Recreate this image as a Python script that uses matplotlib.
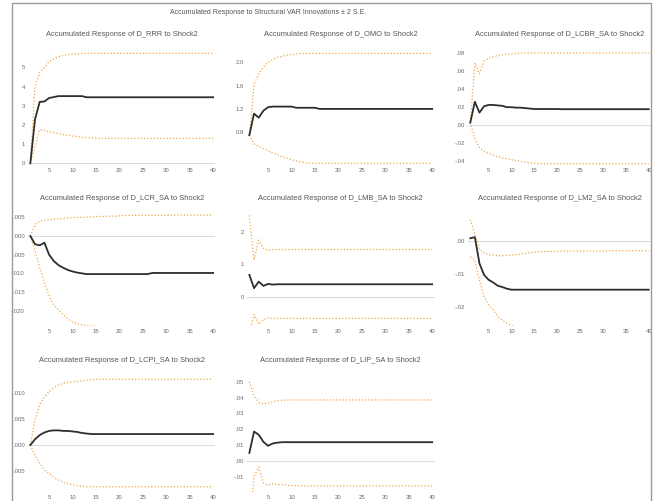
import matplotlib
matplotlib.use("Agg")
import matplotlib.pyplot as plt
from matplotlib.patches import Rectangle

W, H = 661, 501
plt.rcParams['font.family'] = ['Liberation Sans', 'DejaVu Sans']

periods = list(range(1, 41))
xticks = [5, 10, 15, 20, 25, 30, 35, 40]

# --- D_RRR
rrr_resp = [0.00, 2.30, 3.20, 3.22, 3.40, 3.45, 3.50, 3.50, 3.50, 3.50,
            3.50, 3.50, 3.44, 3.44, 3.44, 3.44, 3.44, 3.44, 3.44, 3.44,
            3.44, 3.44, 3.44, 3.44, 3.44, 3.44, 3.44, 3.44, 3.44, 3.44,
            3.44, 3.44, 3.44, 3.44, 3.44, 3.44, 3.44, 3.44, 3.44, 3.44]
rrr_up = [0.00, 4.00, 4.75, 5.00, 5.30, 5.45, 5.55, 5.62, 5.66, 5.69,
          5.71, 5.72, 5.73, 5.73, 5.73, 5.73, 5.73, 5.73, 5.73, 5.73,
          5.73, 5.73, 5.73, 5.73, 5.73, 5.73, 5.73, 5.73, 5.73, 5.73,
          5.73, 5.73, 5.73, 5.73, 5.73, 5.73, 5.73, 5.73, 5.73, 5.73]
rrr_lo = [0.00, 0.90, 1.75, 1.72, 1.65, 1.60, 1.55, 1.50, 1.46, 1.42,
          1.39, 1.36, 1.34, 1.32, 1.30, 1.30, 1.30, 1.30, 1.30, 1.30,
          1.30, 1.30, 1.30, 1.30, 1.30, 1.30, 1.30, 1.30, 1.30, 1.30,
          1.30, 1.30, 1.30, 1.30, 1.30, 1.30, 1.30, 1.30, 1.30, 1.30]

# --- D_OMO
omo_resp = [0.75, 1.12, 1.05, 1.17, 1.23, 1.24, 1.24, 1.24, 1.24, 1.24,
            1.22, 1.22, 1.22, 1.22, 1.22, 1.20, 1.20, 1.20, 1.20, 1.20,
            1.20, 1.20, 1.20, 1.20, 1.20, 1.20, 1.20, 1.20, 1.20, 1.20,
            1.20, 1.20, 1.20, 1.20, 1.20, 1.20, 1.20, 1.20, 1.20, 1.20]
omo_up = [0.75, 1.62, 1.80, 1.92, 2.00, 2.05, 2.08, 2.10, 2.12, 2.13,
          2.14, 2.15, 2.15, 2.15, 2.15, 2.15, 2.15, 2.15, 2.15, 2.15,
          2.15, 2.15, 2.15, 2.15, 2.15, 2.15, 2.15, 2.15, 2.15, 2.15,
          2.15, 2.15, 2.15, 2.15, 2.15, 2.15, 2.15, 2.15, 2.15, 2.15]
omo_lo = [0.75, 0.60, 0.56, 0.52, 0.48, 0.45, 0.42, 0.38, 0.36, 0.33,
          0.31, 0.29, 0.28, 0.27, 0.27, 0.27, 0.27, 0.27, 0.27, 0.27,
          0.27, 0.27, 0.27, 0.27, 0.27, 0.27, 0.27, 0.27, 0.27, 0.27,
          0.27, 0.27, 0.27, 0.27, 0.27, 0.27, 0.27, 0.27, 0.27, 0.27]

# --- D_LCBR_SA
lcbr_resp = [0.003, 0.026, 0.014, 0.021, 0.0225, 0.0225, 0.022, 0.0215, 0.020, 0.020,
             0.0195, 0.0195, 0.019, 0.0185, 0.018, 0.018, 0.018, 0.018, 0.018, 0.018,
             0.0178, 0.0178, 0.0178, 0.0178, 0.0178, 0.0178, 0.0178, 0.0178, 0.0178, 0.0178,
             0.0178, 0.0178, 0.0178, 0.0178, 0.0178, 0.0178, 0.0178, 0.0178, 0.0178, 0.0178]
lcbr_up = [0.003, 0.069, 0.057, 0.071, 0.074, 0.076, 0.077, 0.078, 0.079, 0.079,
           0.0795, 0.080, 0.080, 0.080, 0.080, 0.080, 0.080, 0.080, 0.080, 0.080,
           0.080, 0.080, 0.080, 0.080, 0.080, 0.080, 0.080, 0.080, 0.080, 0.080,
           0.080, 0.080, 0.080, 0.080, 0.080, 0.080, 0.080, 0.080, 0.080, 0.080]
lcbr_lo = [0.003, -0.015, -0.025, -0.029, -0.031, -0.033, -0.035, -0.036, -0.037, -0.038,
           -0.039, -0.040, -0.041, -0.0415, -0.042, -0.0425, -0.0425, -0.0425, -0.0425, -0.0425,
           -0.0425, -0.0425, -0.0425, -0.0425, -0.0425, -0.0425, -0.0425, -0.0425, -0.0425, -0.0425,
           -0.0425, -0.0425, -0.0425, -0.0425, -0.0425, -0.0425, -0.0425, -0.0425, -0.0425, -0.0425]

# --- D_LCR_SA
lcr_resp = [0.0, -0.0022, -0.0025, -0.0018, -0.0050, -0.0067, -0.0078, -0.0085, -0.0091, -0.0095,
            -0.0098, -0.0100, -0.0102, -0.0102, -0.0102, -0.0102, -0.0102, -0.0102, -0.0102, -0.0102,
            -0.0102, -0.0102, -0.0102, -0.0102, -0.0102, -0.0102, -0.0099, -0.0099, -0.0099, -0.0099,
            -0.0099, -0.0099, -0.0099, -0.0099, -0.0099, -0.0099, -0.0099, -0.0099, -0.0099, -0.0099]
lcr_up = [0.0, 0.0030, 0.0040, 0.0042, 0.0044, 0.0045, 0.0046, 0.0047, 0.0048, 0.0049,
          0.0050, 0.0050, 0.0051, 0.0051, 0.0052, 0.0052, 0.0053, 0.0053, 0.0053, 0.0054,
          0.0055, 0.0055, 0.0055, 0.0055, 0.0055, 0.0055, 0.0055, 0.0055, 0.0055, 0.0055,
          0.0056, 0.0056, 0.0056, 0.0056, 0.0056, 0.0056, 0.0056, 0.0056, 0.0056, 0.0056]
lcr_lo = [0.0, -0.0040, -0.0085, -0.0125, -0.0160, -0.0185, -0.0198, -0.0210, -0.0222, -0.0230,
          -0.0235, -0.0238, -0.0240, -0.0241, -0.0242, -0.0244, -0.0248, -0.0252, -0.0255, -0.0257,
          -0.0258, -0.0258, -0.0258, -0.0258, -0.0258, -0.0258, -0.0258, -0.0258, -0.0258, -0.0258,
          -0.0260, -0.0260, -0.0260, -0.0260, -0.0260, -0.0260, -0.0260, -0.0260, -0.0260, -0.0260]

# --- D_LMB_SA
lmb_resp = [0.67, 0.26, 0.46, 0.33, 0.39, 0.37, 0.38, 0.38, 0.38, 0.38,
            0.38, 0.38, 0.38, 0.38, 0.38, 0.38, 0.38, 0.38, 0.38, 0.38,
            0.38, 0.38, 0.38, 0.38, 0.38, 0.38, 0.38, 0.38, 0.38, 0.38,
            0.38, 0.38, 0.38, 0.38, 0.38, 0.38, 0.38, 0.38, 0.38, 0.38]
lmb_up = [2.50, 1.12, 1.74, 1.49, 1.42, 1.44, 1.45, 1.45, 1.45, 1.45,
          1.45, 1.45, 1.45, 1.45, 1.45, 1.45, 1.45, 1.45, 1.45, 1.45,
          1.45, 1.45, 1.45, 1.45, 1.45, 1.45, 1.45, 1.45, 1.45, 1.45,
          1.45, 1.45, 1.45, 1.45, 1.45, 1.45, 1.45, 1.45, 1.45, 1.45]
lmb_lo = [-1.16, -0.55, -0.85, -0.72, -0.64, -0.68, -0.67, -0.67, -0.67, -0.67,
          -0.67, -0.67, -0.67, -0.67, -0.67, -0.67, -0.67, -0.67, -0.67, -0.67,
          -0.67, -0.67, -0.67, -0.67, -0.67, -0.67, -0.67, -0.67, -0.67, -0.67,
          -0.67, -0.67, -0.67, -0.67, -0.67, -0.67, -0.67, -0.67, -0.67, -0.67]

# --- D_LM2_SA
lm2_resp = [0.0007, 0.0010, -0.0069, -0.0104, -0.0119, -0.0127, -0.0137, -0.0141, -0.0146, -0.0149,
            -0.0149, -0.0149, -0.0149, -0.0149, -0.0149, -0.0149, -0.0149, -0.0149, -0.0149, -0.0149,
            -0.0149, -0.0149, -0.0149, -0.0149, -0.0149, -0.0149, -0.0149, -0.0149, -0.0149, -0.0149,
            -0.0149, -0.0149, -0.0149, -0.0149, -0.0149, -0.0149, -0.0149, -0.0149, -0.0149, -0.0149]
lm2_up = [0.0063, 0.0020, -0.0025, -0.0038, -0.0043, -0.0045, -0.0046, -0.0046, -0.0045, -0.0044,
          -0.0043, -0.0041, -0.0039, -0.0037, -0.0035, -0.0034, -0.0033, -0.0033, -0.0033, -0.0033,
          -0.0032, -0.0032, -0.0032, -0.0032, -0.0032, -0.0032, -0.0032, -0.0032, -0.0032, -0.0032,
          -0.0031, -0.0031, -0.0031, -0.0031, -0.0031, -0.0031, -0.0031, -0.0031, -0.0031, -0.0031]
lm2_lo = [-0.0049, -0.0060, -0.0120, -0.0170, -0.0195, -0.0210, -0.0230, -0.0242, -0.0250, -0.0258,
          -0.0262, -0.0264, -0.0266, -0.0267, -0.0267, -0.0267, -0.0267, -0.0267, -0.0267, -0.0267,
          -0.0267, -0.0267, -0.0267, -0.0267, -0.0267, -0.0267, -0.0267, -0.0267, -0.0267, -0.0267,
          -0.0267, -0.0267, -0.0267, -0.0267, -0.0267, -0.0267, -0.0267, -0.0267, -0.0267, -0.0267]

# --- D_LCPI_SA
lcpi_resp = [0.0, 0.0011, 0.0019, 0.0024, 0.0027, 0.0028, 0.0028, 0.0027, 0.0027, 0.0026,
             0.0025, 0.0023, 0.0022, 0.0021, 0.0021, 0.0021, 0.0021, 0.0021, 0.0021, 0.0021,
             0.0021, 0.0021, 0.0021, 0.0021, 0.0021, 0.0021, 0.0021, 0.0021, 0.0021, 0.0021,
             0.0021, 0.0021, 0.0021, 0.0021, 0.0021, 0.0021, 0.0021, 0.0021, 0.0021, 0.0021]
lcpi_up = [0.0, 0.0048, 0.0077, 0.0092, 0.0102, 0.0110, 0.0115, 0.0118, 0.0120, 0.0121,
           0.0122, 0.0123, 0.0124, 0.0125, 0.0126, 0.0126, 0.0126, 0.0126, 0.0126, 0.0126,
           0.0126, 0.0126, 0.0126, 0.0126, 0.0126, 0.0126, 0.0126, 0.0126, 0.0126, 0.0126,
           0.0126, 0.0126, 0.0126, 0.0126, 0.0126, 0.0126, 0.0126, 0.0126, 0.0126, 0.0126]
lcpi_lo = [0.0, -0.0020, -0.0035, -0.0048, -0.0055, -0.0062, -0.0067, -0.0071, -0.0074, -0.0076,
           -0.0078, -0.0079, -0.0080, -0.0080, -0.0080, -0.0080, -0.0080, -0.0080, -0.0080, -0.0080,
           -0.0080, -0.0080, -0.0080, -0.0080, -0.0080, -0.0080, -0.0080, -0.0080, -0.0080, -0.0080,
           -0.0080, -0.0080, -0.0080, -0.0080, -0.0080, -0.0080, -0.0080, -0.0080, -0.0080, -0.0080]

# --- D_LIP_SA
lip_resp = [0.0050, 0.0185, 0.0165, 0.0120, 0.0095, 0.0110, 0.0115, 0.0118, 0.0118, 0.0118,
            0.0118, 0.0118, 0.0118, 0.0118, 0.0118, 0.0118, 0.0118, 0.0118, 0.0118, 0.0118,
            0.0118, 0.0118, 0.0118, 0.0118, 0.0118, 0.0118, 0.0118, 0.0118, 0.0118, 0.0118,
            0.0118, 0.0118, 0.0118, 0.0118, 0.0118, 0.0118, 0.0118, 0.0118, 0.0118, 0.0118]
lip_up = [0.050, 0.041, 0.037, 0.036, 0.0365, 0.0375, 0.038, 0.0383, 0.0385, 0.0385,
          0.0385, 0.0385, 0.0385, 0.0385, 0.0385, 0.0385, 0.0385, 0.0385, 0.0385, 0.0385,
          0.0385, 0.0385, 0.0385, 0.0385, 0.0385, 0.0385, 0.0385, 0.0385, 0.0385, 0.0385,
          0.0385, 0.0385, 0.0385, 0.0385, 0.0385, 0.0385, 0.0385, 0.0385, 0.0385, 0.0385]
lip_lo = [-0.040, -0.010, -0.004, -0.014, -0.0155, -0.0145, -0.0150, -0.0152, -0.0154, -0.0156,
          -0.0158, -0.0158, -0.0158, -0.0158, -0.0158, -0.0158, -0.0158, -0.0158, -0.0158, -0.0158,
          -0.0158, -0.0158, -0.0158, -0.0158, -0.0158, -0.0158, -0.0158, -0.0158, -0.0158, -0.0158,
          -0.0158, -0.0158, -0.0158, -0.0158, -0.0158, -0.0158, -0.0158, -0.0158, -0.0158, -0.0158]

titles = ["Accumulated Response of D_RRR to Shock2",
          "Accumulated Response of D_OMO to Shock2",
          "Accumulated Response of D_LCBR_SA to Shock2",
          "Accumulated Response of D_LCR_SA to Shock2",
          "Accumulated Response of D_LMB_SA to Shock2",
          "Accumulated Response of D_LM2_SA to Shock2",
          "Accumulated Response of D_LCPI_SA to Shock2",
          "Accumulated Response of D_LIP_SA to Shock2"]

series = [(rrr_resp, rrr_up, rrr_lo), (omo_resp, omo_up, omo_lo),
          (lcbr_resp, lcbr_up, lcbr_lo), (lcr_resp, lcr_up, lcr_lo),
          (lmb_resp, lmb_up, lmb_lo), (lm2_resp, lm2_up, lm2_lo),
          (lcpi_resp, lcpi_up, lcpi_lo), (lip_resp, lip_up, lip_lo)]

yticks = [[0, 1, 2, 3, 4, 5],
          [0.8, 1.2, 1.6, 2.0],
          [-0.04, -0.02, 0.0, 0.02, 0.04, 0.06, 0.08],
          [-0.020, -0.015, -0.010, -0.005, 0.0, 0.005],
          [0, 1, 2],
          [-0.02, -0.01, 0.0],
          [-0.005, 0.0, 0.005, 0.010],
          [-0.01, 0.0, 0.01, 0.02, 0.03, 0.04, 0.05]]
ylabels = [["0", "1", "2", "3", "4", "5"],
           ["0.8", "1.2", "1.6", "2.0"],
           ["-.04", "-.02", ".00", ".02", ".04", ".06", ".08"],
           ["-.020", "-.015", "-.010", "-.005", ".000", ".005"],
           ["0", "1", "2"],
           ["-.02", "-.01", ".00"],
           ["-.005", ".000", ".005", ".010"],
           ["-.01", ".00", ".01", ".02", ".03", ".04", ".05"]]
ylims = [(-0.09, 6.32), (0.24, 2.346), (-0.044, 0.0922), (-0.0241, 0.0083),
         (-0.905, 2.82), (-0.0259, 0.01076), (-0.0090, 0.01475), (-0.0197, 0.0587)]

# pixel boxes of the panels
col_x = [(28, 215.5), (247, 434.5), (468, 651)]
row_y = [(42, 165), (205, 326), (368, 492)]

fig = plt.figure(figsize=(W / 100, H / 100), dpi=100)
fig.patch.set_facecolor('white')

fig.add_artist(Rectangle((12 / W, -0.01), (651 - 12) / W, 1.01 - 3 / H,
                         transform=fig.transFigure, fill=False,
                         edgecolor='#9a9a9a', lw=1.0))
fig.text(268 / W, 1 - 13 / H, "Accumulated Response to Structural VAR Innovations \u00b1 2 S.E.",
         ha='center', va='center', fontsize=5.0, color='#555555')

for i in range(8):
    r, c = divmod(i, 3)
    l, rt = col_x[c]
    t, b = row_y[r]
    ax = fig.add_axes([l / W, 1 - b / H, (rt - l) / W, (b - t) / H])
    resp, up, lo = series[i]
    ax.axhline(0, color='#dcdcdc', lw=0.8, zorder=1)
    ax.plot(periods, up, color='#f2a64a', lw=0.9, ls=(0, (1, 1.6)), zorder=2)
    ax.plot(periods, lo, color='#f2a64a', lw=0.9, ls=(0, (1, 1.6)), zorder=2)
    ax.plot(periods, resp, color='#2e2e2e', lw=1.3, zorder=3)
    ax.set_xlim(0.5, 40.5)
    ax.set_ylim(*ylims[i])
    ax.set_xticks(xticks)
    ax.set_xticklabels([str(v) for v in xticks])
    ax.set_yticks(yticks[i])
    ax.set_yticklabels(ylabels[i])
    ax.tick_params(length=0, labelsize=4.3, labelcolor='#6a6a6a', pad=2.2)
    for s in ax.spines.values():
        s.set_visible(False)
    ax.set_facecolor('none')
    fig.text((l + rt) / 2 / W, 1 - (t - 7) / H, titles[i], ha='center', va='center',
             fontsize=5.4, color='#555555')

fig.savefig("out.png", dpi=100)
